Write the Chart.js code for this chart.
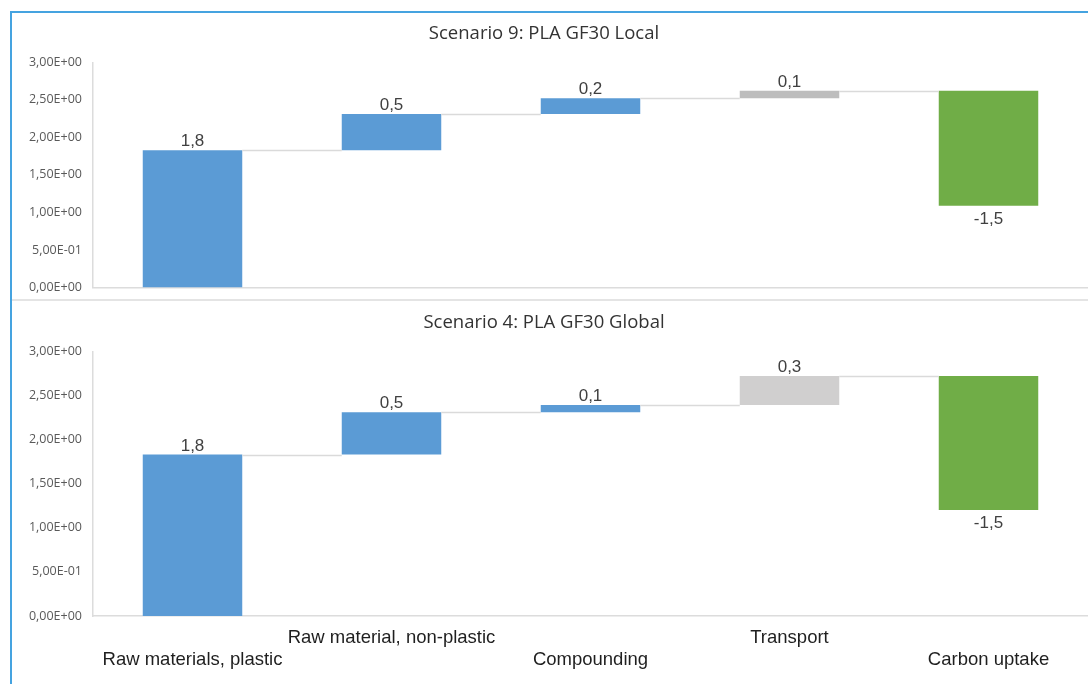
<!DOCTYPE html>
<html>
<head>
<meta charset="utf-8">
<script src="https://cdn.jsdelivr.net/npm/chart.js@4/dist/chart.umd.min.js"></script>
<style>
  html, body { margin: 0; padding: 0; background: #ffffff; width: 1088px; height: 684px; overflow: hidden; position: relative; }
  canvas { position: absolute; left: 0; }
  #localChart { top: 0; }
  #globalChart { top: 301px; }
  .frame { position: absolute; left: 10px; top: 11px; width: 1100px; height: 700px;
           border-left: 2px solid #45a3e0; border-top: 2px solid #45a3e0; pointer-events: none; }
  .divider { position: absolute; left: 12px; top: 299px; width: 1076px; height: 2px; background: #e4e4e4; }
</style>
</head>
<body>
<canvas id="localChart" width="1088" height="306" style="width:1088px;height:306px"></canvas>
<canvas id="globalChart" width="1088" height="383" style="width:1088px;height:383px"></canvas>
<div class="divider"></div>
<div class="frame"></div>
<script>
// Life-cycle stages shown on both waterfalls
const categories = ['Raw materials, plastic', 'Raw material, non-plastic', 'Compounding', 'Transport', 'Carbon uptake'];

// Contribution of each stage (kg CO2-eq)
const localSteps  = [1.83, 0.48, 0.21, 0.10, -1.53];
const globalSteps = [1.83, 0.48, 0.08, 0.33, -1.52];

// Fill colour per stage
const localColors  = ['#5B9BD5', '#5B9BD5', '#5B9BD5', '#BDBDBD', '#70AD47'];
const globalColors = ['#5B9BD5', '#5B9BD5', '#5B9BD5', '#D0CFCF', '#70AD47'];

// Value axis range
const yMin = 0;
const yMax = 3;
const yStep = 0.5;

const titles = ['Scenario 9: PLA GF30 Local', 'Scenario 4: PLA GF30 Global'];

// Two-row staggered axis labels: odd stages on the upper row
const staggeredLabels = categories.map((c, i) => (i % 2 === 1 ? c : ['', c]));

function sci(v) {
  if (v === 0) return '0,00E+00';
  const e = Math.floor(Math.log10(Math.abs(v)) + 1e-9);
  const m = v / Math.pow(10, e);
  return m.toFixed(2).replace('.', ',') + 'E' + (e < 0 ? '-' : '+') + String(Math.abs(e)).padStart(2, '0');
}

function toRanges(steps) {
  let run = 0;
  return steps.map(s => { const start = run; run += s; return [start, run]; });
}

function fmt(v) { return v.toFixed(1).replace('.', ','); }

// Connector lines between consecutive bars and value labels on each bar
const waterfallExtras = {
  id: 'waterfallExtras',
  afterDatasetsDraw(chart) {
    const { ctx, scales: { x, y } } = chart;
    const meta = chart.getDatasetMeta(0);
    const ranges = chart.data.datasets[0].data;
    const steps = chart.data.datasets[0].steps;
    ctx.save();
    ctx.strokeStyle = '#dadada';
    ctx.lineWidth = 1.5;
    for (let i = 0; i < ranges.length - 1; i++) {
      const a = meta.data[i], b = meta.data[i + 1];
      const yy = Math.round(y.getPixelForValue(ranges[i][1])) + 0.5;
      ctx.beginPath();
      ctx.moveTo(a.x + a.width / 2, yy);
      ctx.lineTo(b.x - b.width / 2, yy);
      ctx.stroke();
    }
    ctx.fillStyle = '#404040';
    ctx.font = '17px "Liberation Sans", Arial, sans-serif';
    ctx.textAlign = 'center';
    ctx.textBaseline = 'alphabetic';
    ranges.forEach((r, i) => {
      const el = meta.data[i];
      const top = y.getPixelForValue(Math.max(r[0], r[1]));
      const bottom = y.getPixelForValue(Math.min(r[0], r[1]));
      if (steps[i] >= 0) {
        ctx.fillText(fmt(steps[i]), el.x, top - 4);
      } else {
        ctx.fillText(fmt(steps[i]), el.x, bottom + 18);
      }
    });
    ctx.restore();
  }
};

function makeChart(canvasId, title, steps, colors, withLabels, titlePad, xHeight) {
  return new Chart(document.getElementById(canvasId), {
    type: 'bar',
    data: {
      labels: withLabels ? staggeredLabels : categories,
      datasets: [{
        data: toRanges(steps),
        steps: steps,
        backgroundColor: colors,
        borderWidth: 0,
        categoryPercentage: 1.0,
        barPercentage: 0.5
      }]
    },
    options: {
      responsive: false,
      devicePixelRatio: 1,
      animation: false,
      layout: { padding: { left: 0, right: 0, top: 0, bottom: 0 } },
      plugins: {
        legend: { display: false },
        tooltip: { enabled: false },
        title: {
          display: true,
          text: title,
          color: '#333333',
          font: { family: '"Open Sans", sans-serif', size: 18.5, weight: 'normal', lineHeight: 1.2 },
          padding: titlePad
        }
      },
      scales: {
        x: {
          grid: { display: false, drawTicks: false },
          border: { display: true, color: '#dcdcdc', width: 1.5 },
          ticks: {
            display: withLabels,
            color: '#1f1f1f',
            font: { family: '"Liberation Sans", Arial, sans-serif', size: 18.5, lineHeight: 22 / 18.5 },
            padding: 11,
            maxRotation: 0,
            autoSkip: false
          },
          afterFit(scale) { scale.height = xHeight; }
        },
        y: {
          min: yMin,
          max: yMax,
          grid: { display: false, drawTicks: false },
          border: { display: true, color: '#dcdcdc', width: 1.5 },
          ticks: {
            stepSize: yStep,
            color: '#595959',
            font: { family: '"Open Sans", sans-serif', size: 12.5 },
            padding: 11,
            callback: v => sci(v)
          },
          afterFit(scale) { scale.width = 93; }
        }
      }
    },
    plugins: [waterfallExtras]
  });
}

makeChart('localChart', titles[0], localSteps, localColors, false, { top: 22.9, bottom: 17.2 }, 7);
makeChart('globalChart', titles[1], globalSteps, globalColors, true, { top: 10.9, bottom: 17.2 }, 68);
</script>
</body>
</html>
